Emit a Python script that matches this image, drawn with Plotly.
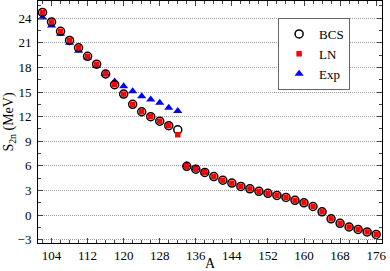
import plotly.graph_objects as go

A_thy = list(range(102, 177, 2))
bcs = [24.7, 23.55, 22.4, 21.3, 20.4, 19.35, 18.4, 17.2, 15.9, 14.75, 13.5, 12.6, 12.0, 11.45, 10.9, 10.4,
       5.95, 5.6, 5.2, 4.7, 4.25, 3.9, 3.5, 3.2, 2.9, 2.65, 2.4, 2.15, 1.8, 1.5, 1.05, 0.4,
       -0.45, -1.0, -1.45, -1.75, -2.05, -2.35]
ln = [24.7, 23.55, 22.4, 21.3, 20.4, 19.35, 18.4, 17.2, 15.9, 14.75, 13.5, 12.6, 12.0, 11.45, 10.9, 9.8,
      5.95, 5.6, 5.2, 4.7, 4.25, 3.9, 3.5, 3.2, 2.9, 2.65, 2.4, 2.15, 1.8, 1.5, 1.05, 0.4,
      -0.45, -1.0, -1.45, -1.75, -2.05, -2.35]
A_exp = list(range(102, 133, 2)) + [134, 136, 138]
exp = [24.1, 23.1, 22.1, 21.0, 20.05, 19.2, 18.2, 17.2, 16.3, 15.7, 15.1, 14.5, 14.1, 13.7, 13.1, 12.7,
       6.1, 5.7, 5.2]

font = "Liberation Serif, Times New Roman, serif"
fig = go.Figure()
fig.add_trace(go.Scatter(x=A_exp, y=exp, mode="markers", name="Exp", legendrank=3,
                         marker=dict(symbol="triangle-up", size=8, color="#0000ff")))
fig.add_trace(go.Scatter(x=A_thy, y=bcs, mode="markers", name="BCS", legendrank=1,
                         marker=dict(symbol="circle-open", size=8, color="black", line=dict(width=1.5))))
fig.add_trace(go.Scatter(x=A_thy, y=ln, mode="markers", name="LN", legendrank=2,
                         marker=dict(symbol="square", size=5.5, color="#ff0000")))

fig.update_layout(
    width=390, height=271,
    margin=dict(l=38, r=8, t=1, b=28),
    plot_bgcolor="white", paper_bgcolor="white",
    font=dict(family=font, size=13, color="black"),
    showlegend=True,
    legend=dict(x=0.698, y=0.93, xanchor="left", yanchor="top", bordercolor="#666666", borderwidth=1,
                bgcolor="white", font=dict(family=font, size=13), itemsizing="trace", tracegroupgap=0,
                itemwidth=30),
)
fig.update_xaxes(range=[101, 177.3], tickvals=[104, 112, 120, 128, 136, 144, 152, 160, 168, 176],
                 ticks="inside", ticklen=5, mirror="allticks", showline=True, linecolor="black", linewidth=1,
                 showgrid=False, zeroline=False, automargin=False,
                 minor=dict(dtick=2, ticks="inside", ticklen=3, tick0=100, showgrid=False),
                 title=dict(text="A", standoff=0, font=dict(size=14)))
fig.update_yaxes(range=[-3.4, 26.1], tickvals=[-3, 0, 3, 6, 9, 12, 15, 18, 21, 24],
                 ticks="inside", ticklen=5, mirror="allticks", showline=True, linecolor="black", linewidth=1,
                 showgrid=True, gridcolor="#999999", griddash="1px,1px", gridwidth=1, zeroline=False,
                 automargin=False, ticklabelstandoff=3,
                 minor=dict(dtick=1.5, tick0=0, ticks="inside", ticklen=3, showgrid=False),
                 title=dict(text="S<sub>2n</sub> (MeV)", standoff=0, font=dict(size=14)))
fig.write_html("out.html", config={"displayModeBar": False, "staticPlot": True})

with open("out.html", encoding="utf-8") as f:
    html = f.read()
html = html.replace("<head>", "<head><style>html,body{margin:0;padding:0;overflow:hidden}</style>", 1)
with open("out.html", "w", encoding="utf-8") as f:
    f.write(html)
